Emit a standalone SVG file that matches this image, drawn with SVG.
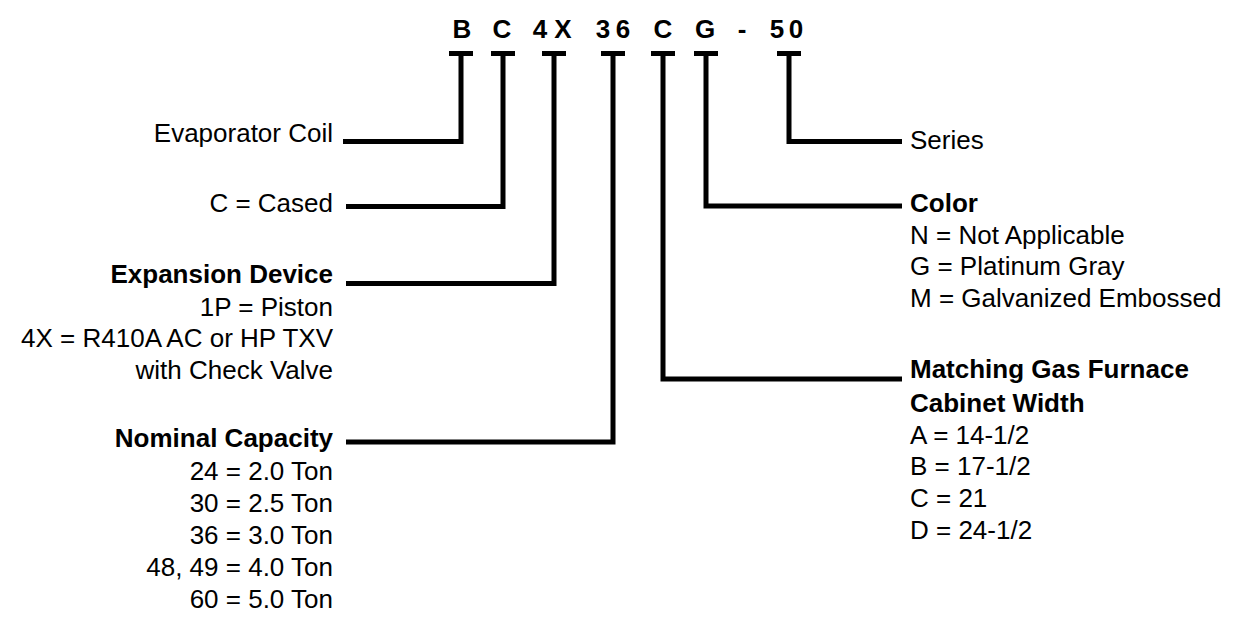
<svg xmlns="http://www.w3.org/2000/svg" width="1241" height="624" viewBox="0 0 1241 624">
<style>
text{font-family:"Liberation Sans",Arial,sans-serif;font-size:26px;fill:#000}
.b{font-weight:bold}
.t{font-weight:bold;text-anchor:middle}
.l{text-anchor:end}
.c{fill:none;stroke:#000;stroke-width:5;stroke-linejoin:miter;stroke-linecap:butt}
</style>
<rect width="1241" height="624" fill="#fff"/>
<g id="code">
<text class="t" x="462" y="38">B</text>
<text class="t" x="502" y="38">C</text>
<text class="t"><tspan x="540" y="38">4</tspan><tspan x="563" y="38">X</tspan></text>
<text class="t"><tspan x="603" y="38">3</tspan><tspan x="623" y="38">6</tspan></text>
<text class="t" x="663" y="38">C</text>
<text class="t" x="705" y="38">G</text>
<text class="t" x="742" y="38">-</text>
<text class="t"><tspan x="777" y="38">5</tspan><tspan x="796" y="38">0</tspan></text>
</g>
<g id="connectors" class="c">
<path d="M449 53.5H473M461 53.5V141.5H343"/>
<path d="M491 53.5H515M503 53.5V206.5H346"/>
<path d="M542 53.5H566M554 53.5V283.5H346"/>
<path d="M601 53.5H625M613 53.5V442H346"/>
<path d="M651 53.5H675M663 53.5V379H902"/>
<path d="M694 53.5H718M706 53.5V206H902"/>
<path d="M777 53.5H801M789 53.5V141.5H902"/>
</g>
<g id="evaporator"><text class="l" x="333" y="141.5">Evaporator Coil</text></g>
<g id="cased"><text class="l" x="333" y="212">C = Cased</text></g>
<g id="expansion">
<text class="l b" x="333" y="283">Expansion Device</text>
<text class="l" x="333" y="315.5">1P = Piston</text>
<text class="l" x="333" y="347">4X = R410A AC or HP TXV</text>
<text class="l" x="333" y="378.5">with Check Valve</text>
</g>
<g id="capacity">
<text class="l b" x="333" y="447">Nominal Capacity</text>
<text class="l" x="333" y="480">24 = 2.0 Ton</text>
<text class="l" x="333" y="512">30 = 2.5 Ton</text>
<text class="l" x="333" y="544">36 = 3.0 Ton</text>
<text class="l" x="333" y="576">48, 49 = 4.0 Ton</text>
<text class="l" x="333" y="608">60 = 5.0 Ton</text>
</g>
<g id="series"><text x="910" y="149">Series</text></g>
<g id="color">
<text class="b" x="910" y="212">Color</text>
<text x="910" y="243.5">N = Not Applicable</text>
<text x="910" y="275">G = Platinum Gray</text>
<text x="910" y="306.5">M = Galvanized Embossed</text>
</g>
<g id="cabinet">
<text class="b" x="910" y="378">Matching Gas Furnace</text>
<text class="b" x="910" y="411.5">Cabinet Width</text>
<text x="910" y="443.5">A = 14-1/2</text>
<text x="910" y="475">B = 17-1/2</text>
<text x="910" y="507">C = 21</text>
<text x="910" y="538.5">D = 24-1/2</text>
</g>
</svg>
